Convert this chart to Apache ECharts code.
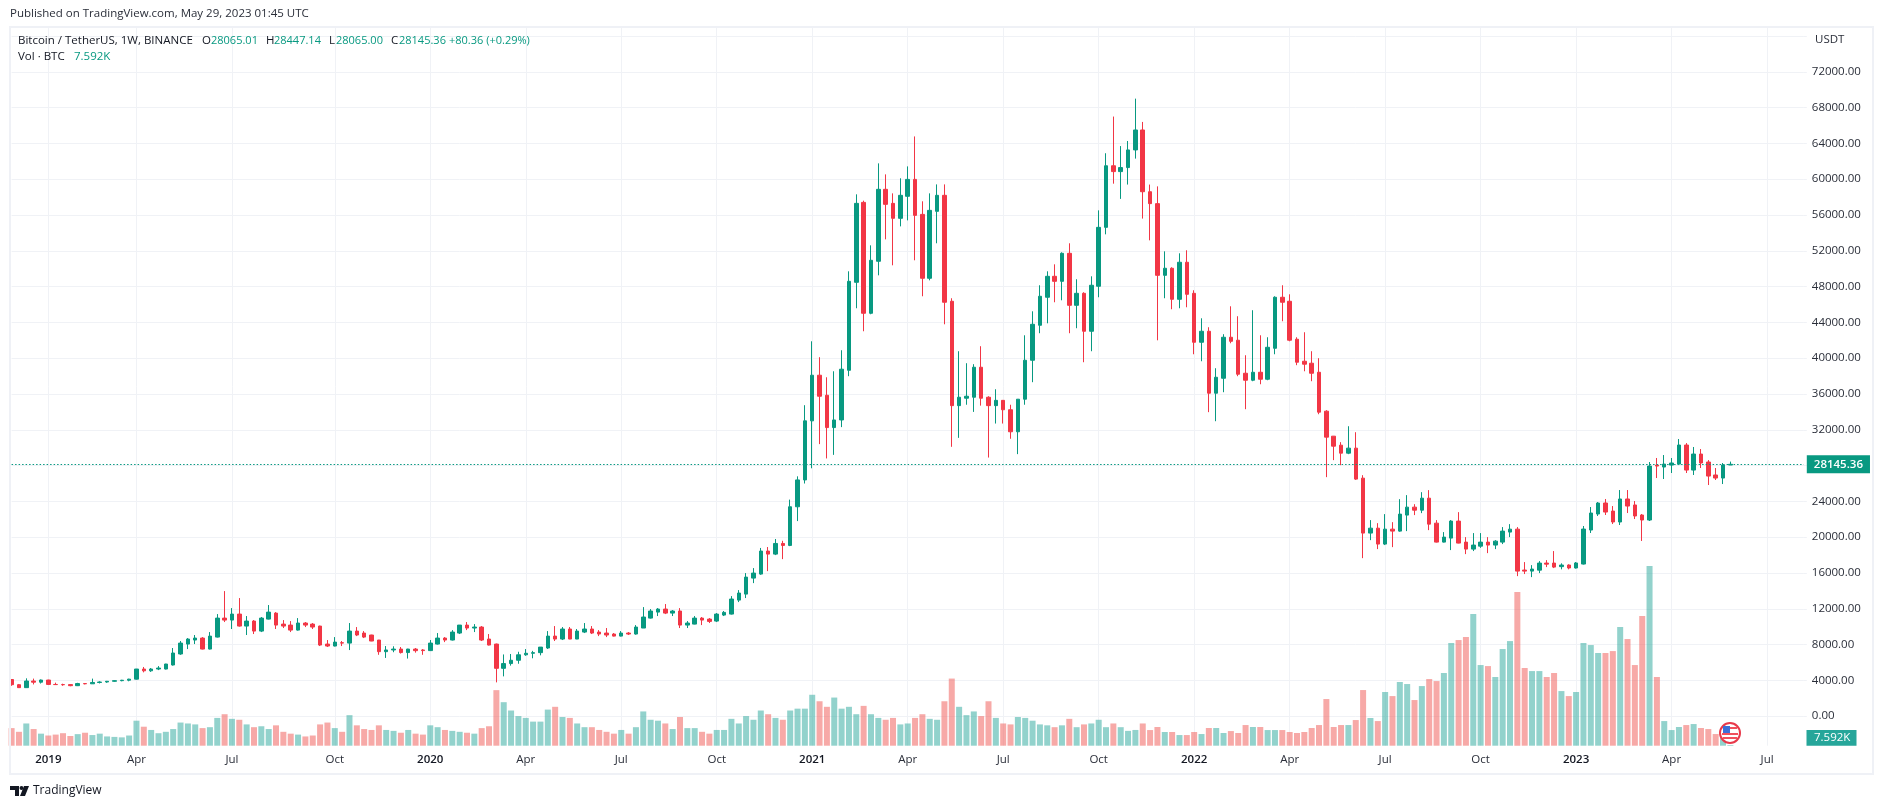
<!DOCTYPE html>
<html>
<head>
<meta charset="utf-8">
<title>BTCUSDT 1W</title>
<style>
  html, body { margin: 0; padding: 0; background: #fff; }
  #chart { width: 1883px; height: 809px; }
</style>
<script src="https://cdn.jsdelivr.net/npm/echarts@6/dist/echarts.min.js"></script>
</head>
<body>
<div id="chart"></div>
<script>
//---------------------------------- weekly candles, first bar is 2018-12-03 ----------------------------------
const firstWeek = '2018-12-03';
const slotCount = 245; // bars plus the empty weeks on the right of the last one

const opens = [
  4100,3520,3190,3930,3800,4040,3550,3530,3530,3410,
  3650,3620,3770,3820,3900,3970,4020,4140,5270,5070,
  5270,5270,5720,6950,8060,8510,8730,7500,8840,10960,
  10740,11410,10070,10630,9510,10850,11520,10290,10180,9620,
  10410,10290,10070,8060,7840,8210,8170,9510,9290,9070,
  8510,7210,7400,7500,7110,7500,7400,7330,8060,8730,
  8510,9290,10180,9850,9960,8620,8060,5350,5880,6250,
  6860,7030,7100,7620,8950,8620,9740,8620,9400,9740,
  9400,9290,9180,8950,9290,9180,9850,10960,11630,11970,
  11520,11750,10180,10290,10960,10850,10630,11300,11410,12970,
  13640,15430,15880,18450,18110,19300,19080,23400,26400,33000,
  38100,35860,32250,33100,38650,48480,57410,45020,50830,58870,
  57300,55630,58090,59980,56070,48930,56410,58200,46360,34700,
  35530,35640,38990,35640,34700,35290,34240,31780,35420,39770,
  43680,46810,49150,48590,51720,45910,47250,43010,48040,54620,
  61500,60850,61300,63270,65500,58600,57270,49260,50050,46580,
  50720,47250,41780,43010,36090,37760,42340,42010,38320,37540,
  38430,37650,41110,46810,46360,42120,39660,39440,38430,34080,
  31290,30280,29390,29950,26600,20460,21010,19230,20900,20680,
  22470,23360,23020,24360,21570,19450,19900,21800,19450,18670,
  19000,19450,19120,19450,20570,20900,16330,16210,16320,17110,
  17110,16710,16890,16560,17000,20800,22590,23820,22920,21700,
  24270,23600,22480,21920,28060,27840,28060,28170,30300,27500,
  29290,28400,26950,26610,28065.01
];
const highs = [
  4150,3600,4230,4200,4100,4070,3750,3630,3560,3730,
  3680,4200,3900,3940,4020,4060,4180,5280,5500,5380,
  5600,5850,7620,8400,8730,9070,8840,9400,11410,13980,
  12080,13200,11190,10740,11080,12420,11630,10740,10630,10960,
  10520,10410,10110,8510,8840,8400,10410,9960,9510,9100,
  8520,7840,7810,7730,7530,7620,7500,8510,9290,8840,
  9620,10180,10520,10290,10070,9180,8110,6900,6950,7200,
  7500,7300,7730,9510,10070,9960,9960,9740,10410,10070,
  9620,9850,9290,9510,9400,10180,12190,11970,12080,12530,
  11860,12080,10630,11190,11080,10960,11520,11750,13420,14090,
  15990,16550,18800,18900,19800,19600,24200,26800,34750,41890,
  40110,37870,38540,40890,49710,58310,57600,52610,61770,60540,
  58420,60100,61430,64780,57530,58420,59420,59420,46700,40780,
  39440,39330,41340,35750,36530,35300,34800,35420,42560,45240,
  48150,49710,50490,51830,52840,48820,47370,49150,56520,62900,
  67000,63700,64270,69000,66400,59400,59200,51940,50160,51720,
  52060,47590,44460,43460,38880,42680,45800,44690,40330,45360,
  42560,42340,46920,48150,47140,42340,42900,40780,40000,34190,
  31310,30620,32400,31730,26930,21910,21570,22580,21680,24250,
  24700,23690,25030,25260,21910,20570,21910,22800,20010,20460,
  20460,20010,19670,21130,21460,21130,17220,16880,17330,17440,
  18450,17080,16970,17230,21250,23370,23930,24270,23480,25270,
  25270,24040,22590,28400,28850,29180,28850,30970,30520,30080,
  29850,28620,27730,28290,28447.14
];
const lows = [
  3400,3160,3180,3550,3650,3480,3500,3400,3350,3370,
  3560,3600,3660,3740,3850,3900,3900,4100,4900,4950,
  5150,5230,5660,6860,7500,8060,7460,7460,8790,10520,
  9740,10010,9070,9180,9400,10810,9740,9850,9400,9560,
  9960,9740,7840,7730,7800,7840,7390,8950,8730,8380,
  6860,6510,7150,7000,6440,7100,6860,7280,8000,8280,
  8460,9180,9620,9400,8400,7910,3780,4450,5650,5860,
  6750,6470,6800,7510,8400,8510,8610,8610,9290,9180,
  8950,8840,8910,8910,9070,9110,9850,10910,11190,11410,
  11190,9850,9850,10260,10180,10410,10520,11190,11360,12750,
  13200,14870,15800,16210,18000,17550,19000,21800,26000,27700,
  30400,28800,29200,32300,37990,45580,43010,44910,49260,53280,
  50380,54730,55400,50940,46920,48700,52840,43790,30100,31100,
  34800,34000,34700,28900,32700,32700,31000,29280,34800,37320,
  42790,43900,46250,46470,42790,43350,39550,40780,46810,53840,
  59500,57800,59400,62300,55600,53170,42000,46700,45470,45580,
  45690,40440,39660,33970,32960,36200,41670,37990,34300,37430,
  37090,37540,40440,44130,41890,39220,38540,37430,33740,26710,
  28610,28050,29280,26400,17660,19670,18670,19120,18890,20610,
  20680,22470,22690,20790,19410,19410,18560,19310,18110,18450,
  18810,18220,18670,19230,20010,15650,15880,15540,15990,16660,
  16550,16410,16410,16500,16950,20470,22370,22480,21470,21360,
  22700,22030,19580,21810,26610,26500,27170,28060,27170,26950,
  27730,25830,26390,25940,28065
];
const closes = [
  3520,3190,3930,3800,4040,3550,3530,3520,3410,3650,
  3620,3770,3820,3900,3970,4020,4140,5270,5070,5270,
  5380,5830,7060,8170,8620,8730,7500,8950,10960,10740,
  11410,10070,10630,9510,10960,11630,10180,10070,9620,10410,
  10180,9960,7950,7840,8280,8170,9510,9070,8840,8400,
  7210,7400,7500,7110,7500,7320,7330,8170,8730,8510,
  9400,10180,9850,9960,8510,7950,5350,5880,6250,6860,
  7030,7100,7720,8950,8620,9740,8620,9510,9740,9290,
  9180,9070,8950,9290,9180,9960,11080,11750,11970,11520,
  11750,10180,10410,10960,10740,10590,11410,11600,13090,13760,
  15540,15990,18450,18110,19300,19080,23400,26400,33000,38100,
  35750,32250,33100,38770,48590,57300,45020,50940,58870,57190,
  55630,58200,59980,55960,48930,56520,58200,46250,34700,35640,
  35750,38990,35530,34700,35290,34240,31780,35420,39770,43790,
  46920,49150,48590,51720,45910,47250,43010,48150,54620,61500,
  60850,61300,63270,65500,58600,57270,49260,50050,46580,50720,
  47140,41780,43010,36090,37870,42340,41890,38210,37540,38430,
  37650,41220,46810,46250,42010,39550,39330,38320,33970,31180,
  30170,29390,29950,26490,20460,21010,19230,20900,20680,22580,
  23360,23020,24360,21460,19450,20010,21800,19340,18670,19120,
  19450,19120,19560,20680,20900,16210,16210,16440,17110,16990,
  16660,16890,16560,17120,20910,22700,23820,22810,21700,24270,
  23480,22370,21920,27950,27950,28170,28290,30300,27500,29290,
  28290,26830,26610,28060,28145.36
];
// volume in thousands of BTC
const volumes = [
  190,150,240,180,130,110,120,135,105,125,
  140,115,130,100,95,90,110,270,205,170,
  135,150,180,250,240,230,190,200,300,340,
  290,280,230,200,210,180,220,150,130,120,
  100,110,230,250,190,150,330,220,180,170,
  220,170,160,140,170,130,120,220,200,170,
  160,150,140,130,190,210,600,470,380,320,
  300,260,260,390,420,310,300,240,200,200,
  170,150,130,170,130,200,370,280,270,240,
  180,310,190,190,150,130,170,170,290,240,
  320,280,380,340,300,280,380,400,400,550,
  480,420,520,400,420,340,430,340,300,280,
  300,230,240,300,340,290,280,480,725,420,
  330,370,320,480,300,240,230,310,300,270,
  230,220,200,220,290,200,230,240,280,200,
  240,200,160,170,240,169,202,148,148,115,
  115,148,126,191,191,137,158,137,223,202,
  202,169,169,169,148,137,148,191,223,504,
  202,223,223,277,601,299,266,580,536,688,
  666,493,644,720,698,785,1109,1141,1174,1422,
  871,860,742,1044,1130,1660,839,806,806,742,
  785,590,536,580,1109,1087,1001,1001,1022,1282,
  1152,871,1400,1940,742,266,169,202,223,234,
  191,180,126,126,7.592
];

const tickDates = [
  '2019-01-07','2019-04-01','2019-07-01','2019-10-07',
  '2020-01-06','2020-04-06','2020-07-06','2020-10-05',
  '2021-01-04','2021-04-05','2021-07-05','2021-10-04',
  '2022-01-03','2022-04-04','2022-07-04','2022-10-03',
  '2023-01-02','2023-04-03','2023-07-03'
];
const tickLabels = [
  '2019','Apr','Jul','Oct','2020','Apr','Jul','Oct','2021','Apr','Jul','Oct',
  '2022','Apr','Jul','Oct','2023','Apr','Jul'
];
const priceGridLines = [
  0,4000,8000,12000,16000,20000,24000,28000,32000,36000,
  40000,44000,48000,52000,56000,60000,64000,68000,72000,76000
];
const priceLabels = [
  0,4000,8000,12000,16000,20000,24000,28000,32000,36000,
  40000,44000,48000,52000,56000,60000,64000,68000,72000
];

const lastClose = 28145.36;
const lastVolumeText = '7.592K';

const UP = '#089981', DOWN = '#F23645';
const VOL_UP = 'rgba(38,166,154,0.5)', VOL_DOWN = 'rgba(239,83,80,0.5)';
const GRID = '#f0f2f6', FRAME = '#eff1f6', TEXT = '#131722', AXIS_TEXT = '#2a2e39';
const FONT = '"Open Sans", "Noto Sans", sans-serif';

//---------------------------------- category axis ----------------------------------
const categories = [];
const start = Date.parse(firstWeek + 'T00:00:00Z');
for (let i = 0; i < slotCount; i++) {
  categories.push(new Date(start + i * 7 * 86400000).toISOString().slice(0, 10));
}
const isTick = (idx, val) => tickDates.indexOf(val) !== -1;

const candleData = opens.map((o, i) => [o, closes[i], lows[i], highs[i]]);
const volumeData = volumes.map((v, i) => ({
  value: v,
  itemStyle: { color: closes[i] >= opens[i] ? VOL_UP : VOL_DOWN }
}));

//---------------------------------- header, footer and tags ----------------------------------
const t = (x, y, text, fill, size, extra) => ({
  type: 'text', x: x, y: y, z: 50, silent: true,
  style: Object.assign({ text: text, fill: fill || TEXT, font: (size || 11.5) + 'px ' + FONT, textVerticalAlign: 'middle' }, extra || {})
});

const graphics = [
  { type: 'rect', z: 40, silent: true, shape: { x: 10, y: 27, width: 1863, height: 747 },
    style: { fill: 'none', stroke: FRAME, lineWidth: 2 } },
  t(10, 14, 'Published on TradingView.com, May 29, 2023 01:45 UTC', '#2a2e39'),
  t(18, 41, 'Bitcoin / TetherUS, 1W, BINANCE'),
  t(202, 41, 'O'), t(211, 41, '28065.01', UP, 11),
  t(266, 41, 'H'), t(274, 41, '28447.14', UP, 11),
  t(329, 41, 'L'), t(336, 41, '28065.00', UP, 11),
  t(391, 41, 'C'), t(399, 41, '28145.36', UP, 11),
  t(449, 41, '+80.36 (+0.29%)', UP, 11),
  t(18, 57, 'Vol \u00b7 BTC'), t(74, 57, lastVolumeText, UP),
  t(1815, 40, 'USDT', AXIS_TEXT),
  { type: 'rect', z: 50, silent: true, shape: { x: 1806.5, y: 730, width: 50, height: 15.7 }, style: { fill: '#26a69a' } },
  t(1814, 738, lastVolumeText, '#fff'),
  // flag badge
  { type: 'circle', z: 51, silent: true, shape: { cx: 1730, cy: 733, r: 10 }, style: { fill: '#fff', stroke: '#e8394a', lineWidth: 2 } },
  { type: 'rect', z: 52, silent: true, shape: { x: 1723, y: 727, width: 14, height: 2 }, style: { fill: '#f0505c' } },
  { type: 'rect', z: 52, silent: true, shape: { x: 1722, y: 733, width: 16, height: 2 }, style: { fill: '#f0505c' } },
  { type: 'rect', z: 52, silent: true, shape: { x: 1723, y: 737, width: 14, height: 2 }, style: { fill: '#f0505c' } },
  { type: 'rect', z: 53, silent: true, shape: { x: 1723, y: 726, width: 7, height: 7 }, style: { fill: '#3a6fd8' } },
  // TradingView mark
  { type: 'polygon', z: 50, silent: true, shape: { points: [[10, 786], [19, 786], [19, 796], [15, 796], [15, 790], [10, 790]] }, style: { fill: TEXT } },
  { type: 'circle', z: 50, silent: true, shape: { cx: 21.5, cy: 788, r: 2 }, style: { fill: TEXT } },
  { type: 'polygon', z: 50, silent: true, shape: { points: [[24, 786], [29, 786], [25, 796], [20, 796]] }, style: { fill: TEXT } },
  t(33, 791, 'TradingView', '#131722', 12)
];

//---------------------------------- chart ----------------------------------
const myChart = echarts.init(document.getElementById('chart'), null, { renderer: 'canvas' });
myChart.setOption({
  animation: false,
  backgroundColor: '#fff',
  grid: { left: 11.6, right: 79.2, top: 27, bottom: 63.3 },
  xAxis: {
    type: 'category',
    data: categories,
    boundaryGap: false,
    axisLine: { show: false },
    axisTick: { show: false },
    splitLine: { show: true, interval: isTick, lineStyle: { color: GRID, width: 1 } },
    axisLabel: {
      interval: isTick,
      margin: 8,
      color: AXIS_TEXT,
      fontFamily: FONT,
      fontSize: 11.5,
      hideOverlap: false,
      formatter: function (val) {
        const lab = tickLabels[tickDates.indexOf(val)];
        return lab.length === 4 ? '{yr|' + lab + '}' : lab;
      },
      rich: { yr: { color: TEXT, fontWeight: 600, fontFamily: FONT, fontSize: 11.5 } }
    }
  },
  yAxis: [
    {
      type: 'value',
      position: 'right',
      min: -3296,
      max: 77006,
      scale: true,
      axisLine: { show: false },
      axisTick: { show: true, length: 3, customValues: priceGridLines, lineStyle: { color: GRID } },
      splitLine: { show: true, lineStyle: { color: GRID, width: 1 } },
      axisLabel: {
        customValues: priceLabels,
        margin: 8,
        color: AXIS_TEXT,
        fontFamily: FONT,
        fontSize: 11.5,
        formatter: function (v) { return v.toFixed(2); }
      }
    },
    { type: 'value', min: 0, max: 7762, show: false, splitLine: { show: false } }
  ],
  series: [
    {
      type: 'bar',
      name: 'Vol',
      yAxisIndex: 1,
      z: 2,
      barWidth: 6,
      silent: true,
      data: volumeData
    },
    {
      type: 'candlestick',
      name: 'BTCUSDT',
      yAxisIndex: 0,
      z: 3,
      barWidth: 4,
      silent: true,
      itemStyle: { color: UP, color0: DOWN, borderColor: UP, borderColor0: DOWN, borderWidth: 1 },
      data: candleData,
      markLine: {
        silent: true,
        symbol: 'none',
        animation: false,
        lineStyle: { color: UP, type: [1.5, 2], width: 1 },
        label: {
          show: true,
          position: 'end',
          distance: 3,
          formatter: lastClose.toFixed(2),
          color: '#fff',
          fontFamily: FONT,
          fontSize: 11.5,
          fontWeight: 600,
          backgroundColor: UP,
          padding: [3, 7, 3, 7]
        },
        data: [{ yAxis: lastClose }]
      }
    }
  ],
  graphic: graphics
});
</script>
</body>
</html>
